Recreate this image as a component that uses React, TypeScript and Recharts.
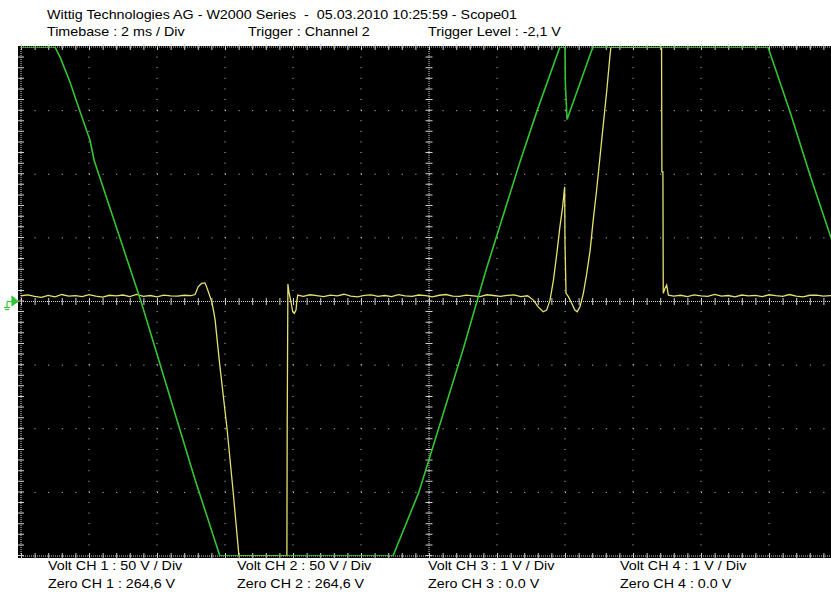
import React from "react";
import { LineChart, Line, XAxis, YAxis, ReferenceLine, ReferenceDot } from "recharts";

// Time in ms (2 ms / div, 12 divisions), voltage in V (50 V / div, +/-4 div)
const ch1Time = [0, 1.0, 1.15, 1.44, 1.74, 2.03, 2.15, 3.53, 5.12, 5.85, 10.94, 11.7, 13.0, 13.41, 13.68, 14.68, 15.18, 15.85, 16.0, 16.01, 16.06, 16.82, 21.97, 22.62, 23.21, 23.85];
const ch1Volt = [200, 200, 192, 172.5, 149, 126.7, 111, 0, -140, -200, -200, -150, -38, 0, 25, 110, 150, 200, 200, 172, 143, 200, 200, 149, 99, 48];

const ch2Time = [
  0, 0.2, 0.4, 0.6, 0.8, 1.0, 1.2, 1.4, 1.6, 1.8, 2.0, 2.2, 2.4, 2.6, 2.8, 3.0, 3.2, 3.4, 3.6, 3.8, 4.0, 4.2, 4.4, 4.6, 4.8, 5.0,
  5.12, 5.21, 5.31, 5.41, 5.46, 5.56, 5.61, 5.66, 5.71, 5.76, 5.85, 6.06, 6.24, 6.41, 7.82, 7.83, 7.85, 7.88, 7.94, 7.99, 8.04, 8.09, 8.11, 8.14,
  8.3, 8.5, 8.7, 8.9, 9.1, 9.3, 9.5, 9.7, 9.9, 10.1, 10.3, 10.5, 10.7, 10.9, 11.1, 11.3, 11.5, 11.7, 11.9, 12.1, 12.3, 12.5, 12.7, 12.9, 13.1, 13.3, 13.5, 13.7, 13.9, 14.1, 14.3, 14.5, 14.7, 14.9,
  15.07, 15.21, 15.36, 15.46, 15.56, 15.66, 15.76, 15.85, 15.93, 15.99, 16.0, 16.03, 16.1, 16.2, 16.29, 16.36, 16.44, 16.54, 16.64, 16.74, 16.83, 16.93, 17.03, 17.13, 17.23, 17.32, 17.35, 18.84, 18.85, 18.88, 18.89, 18.94, 18.99, 19.04,
  19.2, 19.4, 19.6, 19.8, 20.0, 20.2, 20.4, 20.6, 20.8, 21.0, 21.2, 21.4, 21.6, 21.8, 22.0, 22.2, 22.4, 22.6, 22.8, 23.0, 23.2, 23.4, 23.6, 23.8, 24.0,
];
const ch2Volt = [
  4.5, 5.2, 4.0, 3.2, 4.8, 3.6, 5.5, 4.3, 4.6, 3.9, 5.4, 4.2, 3.5, 4.9, 4.4, 5.1, 3.8, 5.6, 4.1, 4.7, 3.7, 5.0, 4.5, 4.2, 4.9, 4.6,
  5.5, 11.5, 14.2, 14.6, 11.5, 3.8, -0.2, -6.8, -14.7, -27.8, -50.8, -100, -149.5, -200, -200, -95, 13.7, 7.6, -0.2, -8, -9.3, -6.6, -0.2, 5,
  4.0, 5.3, 4.6, 3.9, 5.0, 4.4, 5.7, 4.2, 3.6, 4.8, 5.2, 4.1, 4.7, 3.8, 5.4, 4.5, 4.0, 5.1, 4.6, 3.7, 4.9, 5.5, 4.3, 4.0, 5.0, 4.4, 3.9, 5.3, 4.7, 4.1, 4.8, 5.2, 3.8, 4.5,
  1.1, -4.2, -8.1, -6.8, 1.1, 16.8, 37.8, 58.7, 74.4, 90.1, 45.8, 6.4, 3.8, -1.5, -6.7, -8.0, -4.1, 6.4, 22.1, 40.4, 64, 87.6, 113.8, 140, 166.2, 192.4, 200, 200, 101.8, 101.8, 6.4, 10.3, 12.9, 5,
  4.3, 4.9, 3.8, 5.2, 4.5, 4.0, 5.6, 4.2, 4.7, 3.6, 5.1, 4.4, 4.8, 3.9, 5.3, 4.6, 4.1, 5.5, 4.3, 3.7, 4.9, 5.0, 4.2, 4.6, 4.4,
];

const xGridTicks = [2, 4, 6, 8, 10, 14, 16, 18, 20, 22];
const yGridTicks = [-150, -100, -50, 50, 100, 150];

const titleLine = "Wittig Technologies AG - W2000 Series  -  05.03.2010 10:25:59 - Scope01";
const headerItems = ["Timebase : 2 ms / Div", "Trigger : Channel 2", "Trigger Level : -2,1 V"];
const voltLabels = ["Volt CH 1 : 50 V / Div", "Volt CH 2 : 50 V / Div", "Volt CH 3 : 1 V / Div", "Volt CH 4 : 1 V / Div"];
const zeroLabels = ["Zero CH 1 : 264,6 V", "Zero CH 2 : 264,6 V", "Zero CH 3 : 0.0 V", "Zero CH 4 : 0.0 V"];

const ch1Data = ch1Time.map((t, i) => ({ t, v: ch1Volt[i] }));
const ch2Data = ch2Time.map((t, i) => ({ t, v: ch2Volt[i] }));

const GRID = "#d0d0d0";
const GREEN = "#33c433";
const YELLOW = "#e6e070";

const headerX = [47, 248, 428];
const bottomX = [48, 237, 428, 620];
const STRETCH = 1.1;

const ZeroMarker = (props: any) => {
  const { cx, cy } = props;
  return (
    <g stroke={GREEN} fill={GREEN} strokeWidth={1.2}>
      <polygon points={`${cx - 9},${cy - 5} ${cx - 3},${cy} ${cx - 9},${cy + 4}`} />
      <line x1={cx - 14} y1={cy} x2={cx - 9} y2={cy} />
      <line x1={cx - 14} y1={cy} x2={cx - 14} y2={cy + 6} />
      <line x1={cx - 17} y1={cy + 6} x2={cx - 11} y2={cy + 6} />
      <line x1={cx - 16} y1={cy + 8} x2={cx - 12} y2={cy + 8} />
    </g>
  );
};

const Label = ({ x, y, children }: { x: number; y: number; children: string }) => (
  <text transform={`translate(${x},${y}) scale(${STRETCH},1)`} x={0} y={0} xmlSpace="preserve" style={{ whiteSpace: "pre" }}>
    {children}
  </text>
);

export default function App() {
  const font = "'Liberation Sans', Arial, sans-serif";
  return (
    <div style={{ position: "absolute", left: 0, top: 0, width: 831, height: 595, overflow: "hidden", background: "#fff" }}>
      <div style={{ position: "absolute", left: 18, top: 46, width: 813, height: 512, background: "#000" }} />
      <div style={{ position: "absolute", left: 0, top: 0 }}>
        <LineChart width={840} height={595} margin={{ top: 47, right: 3, bottom: 39, left: 21 }}>
          <XAxis type="number" dataKey="t" domain={[0, 24]} hide allowDataOverflow />
          <YAxis type="number" dataKey="v" domain={[-200, 200]} hide allowDataOverflow />
          {xGridTicks.map((x) => (
            <ReferenceLine key={"vx" + x} x={x} stroke={GRID} strokeWidth={1} strokeDasharray="1 9.604" />
          ))}
          {yGridTicks.map((y) => (
            <ReferenceLine key={"hy" + y} y={y} stroke={GRID} strokeWidth={1} strokeDasharray="1 12.6" />
          ))}
          <ReferenceLine y={0} stroke={GRID} strokeWidth={1} strokeDasharray="1 1" />
          <ReferenceLine y={0} stroke={GRID} strokeWidth={7} strokeDasharray="1 12.6" />
          <ReferenceLine x={12} stroke={GRID} strokeWidth={1} strokeDasharray="1 1" />
          <ReferenceLine x={12} stroke={GRID} strokeWidth={7} strokeDasharray="1 9.604" />
          <ReferenceLine y={200} stroke={GRID} strokeWidth={1} strokeDasharray="1 1" />
          <ReferenceLine y={200} stroke={GRID} strokeWidth={6} strokeDasharray="1 12.6" />
          <ReferenceLine y={-200} stroke={GRID} strokeWidth={1} strokeDasharray="1 1" />
          <ReferenceLine y={-200} stroke={GRID} strokeWidth={6} strokeDasharray="1 12.6" />
          <ReferenceLine x={0} stroke={GRID} strokeWidth={1} strokeDasharray="1 1" />
          <ReferenceLine x={0} stroke={GRID} strokeWidth={6} strokeDasharray="1 9.604" />
          <Line data={ch2Data} dataKey="v" type="linear" stroke={YELLOW} strokeWidth={1.3} dot={false} isAnimationActive={false} />
          <Line data={ch1Data} dataKey="v" type="linear" stroke={GREEN} strokeWidth={1.6} dot={false} isAnimationActive={false} />
          <ReferenceDot x={0} y={0} r={0} ifOverflow="visible" shape={ZeroMarker} />
        </LineChart>
      </div>
      <svg width={831} height={595} style={{ position: "absolute", left: 0, top: 0, pointerEvents: "none" }}>
        <g fontFamily={font} fontSize={13} fill="#000">
          <Label x={47} y={19}>{titleLine}</Label>
          {headerItems.map((s, i) => (
            <Label key={s} x={headerX[i]} y={36}>{s}</Label>
          ))}
          {voltLabels.map((s, i) => (
            <Label key={s} x={bottomX[i]} y={570}>{s}</Label>
          ))}
          {zeroLabels.map((s, i) => (
            <Label key={s} x={bottomX[i]} y={588}>{s}</Label>
          ))}
        </g>
      </svg>
    </div>
  );
}
